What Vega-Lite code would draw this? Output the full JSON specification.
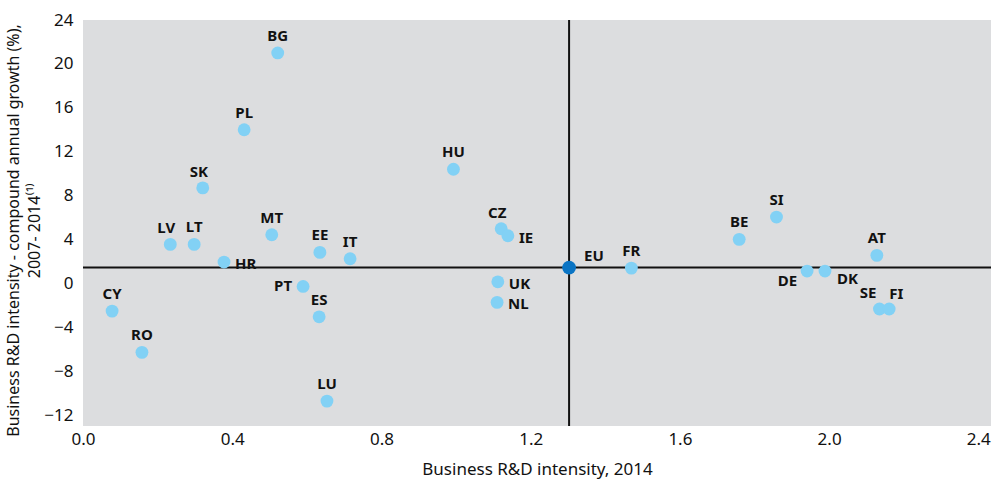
{
  "$schema": "https://vega.github.io/schema/vega-lite/v6.json",
  "width": 908,
  "height": 406,
  "autosize": {"type": "none"},
  "padding": {"left": 83, "top": 20, "right": 3, "bottom": 54},
  "background": "white",
  "config": {
    "view": {"fill": "#dcdddf", "stroke": null},
    "font": "Noto Sans",
    "axis": {"grid": false, "ticks": false, "domain": false, "labelFlush": false, "labelFont": "Noto Sans", "labelFontSize": 17, "labelColor": "#111111", "titleFont": "Noto Sans", "titleFontSize": 17, "titleFontWeight": "normal", "titleColor": "#111111"}
  },
  "data": {"values": [
    {"country": "BG", "intensity": 0.522, "growth": 21.0},
    {"country": "PL", "intensity": 0.432, "growth": 14.0},
    {"country": "SK", "intensity": 0.321, "growth": 8.7},
    {"country": "HU", "intensity": 0.993, "growth": 10.4},
    {"country": "LV", "intensity": 0.234, "growth": 3.55},
    {"country": "LT", "intensity": 0.298, "growth": 3.55},
    {"country": "MT", "intensity": 0.506, "growth": 4.43},
    {"country": "HR", "intensity": 0.378, "growth": 1.94},
    {"country": "EE", "intensity": 0.635, "growth": 2.82},
    {"country": "IT", "intensity": 0.716, "growth": 2.24},
    {"country": "PT", "intensity": 0.590, "growth": -0.28},
    {"country": "ES", "intensity": 0.633, "growth": -3.05},
    {"country": "CY", "intensity": 0.078, "growth": -2.53},
    {"country": "RO", "intensity": 0.158, "growth": -6.29},
    {"country": "LU", "intensity": 0.654, "growth": -10.73},
    {"country": "CZ", "intensity": 1.121, "growth": 4.98},
    {"country": "IE", "intensity": 1.139, "growth": 4.34},
    {"country": "UK", "intensity": 1.112, "growth": 0.14},
    {"country": "NL", "intensity": 1.110, "growth": -1.73},
    {"country": "EU", "intensity": 1.303, "growth": 1.44},
    {"country": "FR", "intensity": 1.470, "growth": 1.39},
    {"country": "BE", "intensity": 1.759, "growth": 4.01},
    {"country": "SI", "intensity": 1.859, "growth": 6.04},
    {"country": "DE", "intensity": 1.941, "growth": 1.12},
    {"country": "DK", "intensity": 1.989, "growth": 1.12},
    {"country": "AT", "intensity": 2.128, "growth": 2.55},
    {"country": "SE", "intensity": 2.135, "growth": -2.34},
    {"country": "FI", "intensity": 2.161, "growth": -2.34}
  ]},
  "encoding": {
    "x": {"field": "intensity", "type": "quantitative", "scale": {"domain": [0, 2.434], "nice": false, "zero": false},
      "axis": {"values": [0, 0.4, 0.8, 1.2, 1.6, 2.0, 2.4], "format": ".1f", "labelPadding": 5, "title": "Business R&D intensity, 2014", "titlePadding": 14}},
    "y": {"field": "growth", "type": "quantitative", "scale": {"domain": [-13, 24], "nice": false, "zero": false},
      "axis": {"values": [-12, -8, -4, 0, 4, 8, 12, 16, 20, 24], "labelPadding": 10, "title": ["Business R&D intensity - compound annual growth (%),", "2007- 2014⁽¹⁾"], "titleFontSize": 16, "titleX": -62, "titleY": 210, "titleLineHeight": 21}}
  },
  "layer": [
    {"transform": [{"filter": "datum.country === 'EU'"}], "mark": {"type": "rule", "color": "#111111", "strokeWidth": 2}, "encoding": {"x": null}},
    {"transform": [{"filter": "datum.country === 'EU'"}], "mark": {"type": "rule", "color": "#111111", "strokeWidth": 2}, "encoding": {"y": null}},
    {"transform": [{"filter": "datum.country !== 'EU'"}], "mark": {"type": "circle", "size": 165, "opacity": 1, "color": "#82d1f5"}},
    {"transform": [{"filter": "datum.country === 'EU'"}], "mark": {"type": "circle", "size": 190, "opacity": 1, "color": "#0a74c4"}},
    {"transform": [{"filter": {"field": "country", "oneOf": ["BG", "PL", "HU", "LT", "MT", "EE", "IT", "CY", "RO", "LU", "ES", "FR", "BE", "SI", "AT"]}}],
      "mark": {"type": "text", "align": "center", "baseline": "middle", "dy": -17, "fontSize": 15, "fontWeight": "bold", "color": "#111111"}, "encoding": {"text": {"field": "country"}}},
    {"transform": [{"filter": {"field": "country", "oneOf": ["SK", "LV", "CZ"]}}],
      "mark": {"type": "text", "align": "center", "baseline": "middle", "dx": -4, "dy": -16, "fontSize": 15, "fontWeight": "bold", "color": "#111111"}, "encoding": {"text": {"field": "country"}}},
    {"transform": [{"filter": {"field": "country", "oneOf": ["HR", "IE", "UK", "NL"]}}],
      "mark": {"type": "text", "align": "left", "baseline": "middle", "dx": 11, "dy": 2, "fontSize": 15, "fontWeight": "bold", "color": "#111111"}, "encoding": {"text": {"field": "country"}}},
    {"transform": [{"filter": {"field": "country", "oneOf": ["PT"]}}],
      "mark": {"type": "text", "align": "right", "baseline": "middle", "dx": -11, "dy": 0, "fontSize": 15, "fontWeight": "bold", "color": "#111111"}, "encoding": {"text": {"field": "country"}}},
    {"transform": [{"filter": {"field": "country", "oneOf": ["EU"]}}],
      "mark": {"type": "text", "align": "left", "baseline": "middle", "dx": 15, "dy": -12, "fontSize": 15, "fontWeight": "bold", "color": "#111111"}, "encoding": {"text": {"field": "country"}}},
    {"transform": [{"filter": {"field": "country", "oneOf": ["DE"]}}],
      "mark": {"type": "text", "align": "right", "baseline": "middle", "dx": -10, "dy": 10, "fontSize": 15, "fontWeight": "bold", "color": "#111111"}, "encoding": {"text": {"field": "country"}}},
    {"transform": [{"filter": {"field": "country", "oneOf": ["DK"]}}],
      "mark": {"type": "text", "align": "left", "baseline": "middle", "dx": 12, "dy": 8, "fontSize": 15, "fontWeight": "bold", "color": "#111111"}, "encoding": {"text": {"field": "country"}}},
    {"transform": [{"filter": {"field": "country", "oneOf": ["SE"]}}],
      "mark": {"type": "text", "align": "right", "baseline": "middle", "dx": -3, "dy": -16, "fontSize": 15, "fontWeight": "bold", "color": "#111111"}, "encoding": {"text": {"field": "country"}}},
    {"transform": [{"filter": {"field": "country", "oneOf": ["FI"]}}],
      "mark": {"type": "text", "align": "left", "baseline": "middle", "dx": 0, "dy": -15, "fontSize": 15, "fontWeight": "bold", "color": "#111111"}, "encoding": {"text": {"field": "country"}}}
  ]
}
